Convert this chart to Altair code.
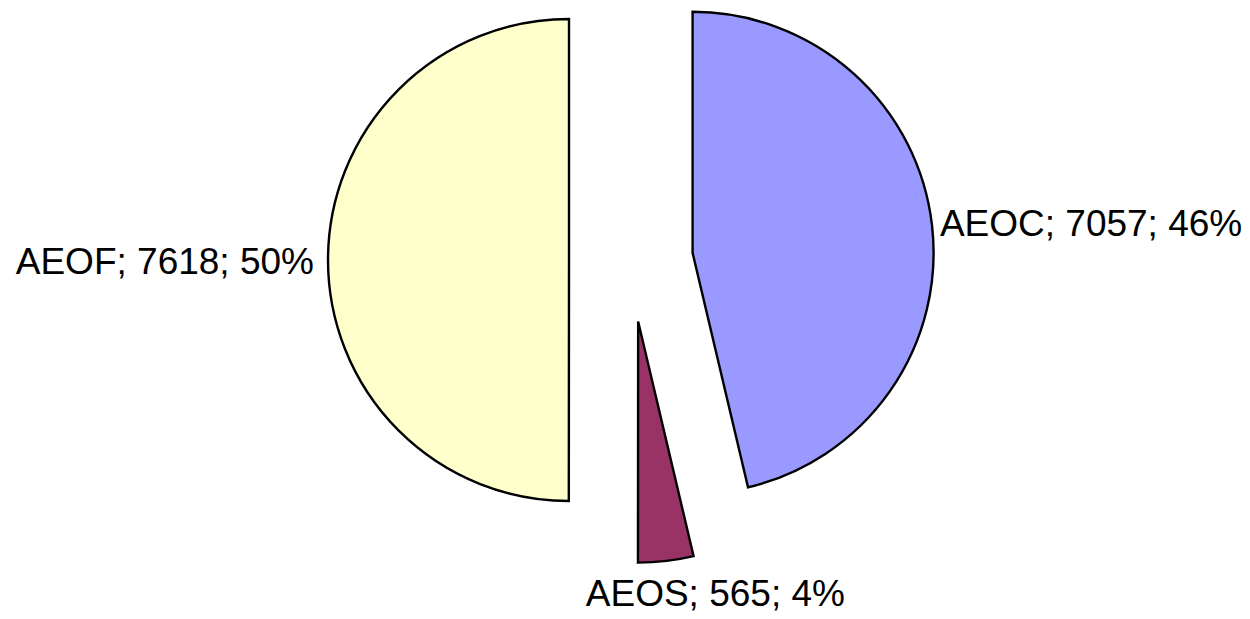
import altair as alt
import pandas as pd

categories = ["AEOC", "AEOS", "AEOF"]
values = [7057, 565, 7618]
colors = ["#9999FF", "#993366", "#FFFFCC"]

df = pd.DataFrame({"cat": categories, "value": values, "idx": list(range(len(categories)))})

W, H = 1234, 611
CX, CY = 623, 252
R = 241
EXPLODE = 62
LABEL_R = R + 12
FONT = "Liberation Sans"
FS = 37

base = (
    alt.Chart(df)
    .transform_joinaggregate(total="sum(value)")
    .transform_window(cum="sum(value)", sort=[alt.SortField("idx")], frame=[None, 0])
    .transform_calculate(start="2*PI*(datum.cum - datum.value)/datum.total")
    .transform_calculate(end="2*PI*datum.cum/datum.total")
    .transform_calculate(mid="(datum.start + datum.end)/2")
    .transform_calculate(pct="round(100*datum.value/datum.total)")
    .transform_calculate(px=f"{CX} + {EXPLODE}*sin(datum.mid)")
    .transform_calculate(py=f"{CY} - {EXPLODE}*cos(datum.mid)")
    .transform_calculate(lx=f"datum.px + {LABEL_R}*sin(datum.mid)")
    .transform_calculate(ly=f"datum.py - {LABEL_R}*cos(datum.mid)")
    .transform_calculate(label="datum.cat + '; ' + datum.value + '; ' + datum.pct + '%'")
)

pie = base.mark_arc(stroke="black", strokeWidth=2.4, radius=R).encode(
    theta=alt.Theta("start:Q", scale=None, stack=None),
    theta2="end:Q",
    x=alt.X("px:Q", scale=None, axis=None),
    y=alt.Y("py:Q", scale=None, axis=None),
    color=alt.Color("cat:N", scale=alt.Scale(domain=categories, range=colors), legend=None),
)

def label_layer(cat, align, baseline, dx=0, dy=0):
    return base.transform_filter(alt.datum.cat == cat).mark_text(
        align=align, baseline=baseline, dx=dx, dy=dy, font=FONT, fontSize=FS, color="black"
    ).encode(
        x=alt.X("lx:Q", scale=None, axis=None),
        y=alt.Y("ly:Q", scale=None, axis=None),
        text="label:N",
    )

labels = [
    label_layer("AEOC", "left", "middle", dx=-4, dy=1),
    label_layer("AEOS", "center", "top", dx=48, dy=4),
    label_layer("AEOF", "right", "middle", dx=-2, dy=3),
]

chart = alt.layer(pie, *labels).properties(
    width=W, height=H, padding=0, autosize=alt.AutoSizeParams(type="none")
).configure_view(stroke=None)

chart.save("out.html", embed_options={"renderer": "svg", "actions": False})
